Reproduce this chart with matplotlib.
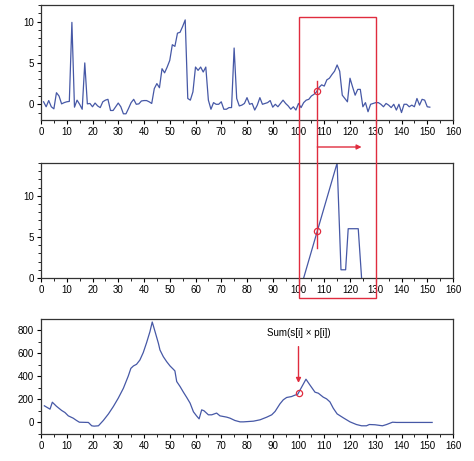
import numpy as np
import matplotlib
matplotlib.use("Agg")
import matplotlib.pyplot as plt
from matplotlib.patches import Rectangle
from matplotlib.lines import Line2D
from matplotlib.ticker import MultipleLocator
import matplotlib.transforms as mtransforms

plt.rcParams['font.family'] = ['Liberation Sans', 'DejaVu Sans']
plt.rcParams['font.size'] = 7

# signal s[i]
signal_x = np.arange(1, 152)
signal_y = [0.3, -0.3, 0.45, -0.3, -0.55, 1.4, 1.0, 0.05, 0.2, 0.3,
            0.35, 9.9, -0.35, 0.5, 0.0, -0.6, 5.0, 0.05, 0.1, -0.3,
            0.15, -0.2, -0.4, 0.3, 0.5, 0.6, -0.75, -0.75, -0.3, 0.15,
            -0.3, -1.15, -1.15, -0.5, 0.2, 0.6, 0.0, 0.05, 0.4, 0.45,
            0.45, 0.3, 0.1, 1.9, 2.5, 2.0, 4.3, 3.8, 4.5, 5.3,
            7.2, 7.0, 8.6, 8.7, 9.4, 10.2, 0.7, 0.5, 1.5, 4.5,
            4.1, 4.5, 3.9, 4.5, 0.5, -0.6, 0.2, 0.0, 0.0, 0.3,
            -0.6, -0.6, -0.4, -0.4, 6.8, 0.7, -0.2, -0.1, 0.1, 0.8,
            0.0, 0.1, -0.7, -0.1, 0.8, 0.0, 0.1, 0.2, 0.45, -0.35,
            0.0, -0.3, 0.1, 0.5, 0.1, -0.2, -0.6, -0.3, -0.7, 0.1,
            -0.4, 0.2, 0.5, 0.6, 1.0, 1.2, 1.5, 2.05, 2.35, 2.2,
            2.95, 3.15, 3.6, 4.0, 4.75, 4.0, 1.1, 0.7, 0.3, 3.15,
            2.1, 1.1, 1.8, 1.8, -0.3, 0.2, -0.9, 0.0, 0.1, 0.2,
            0.2, 0.0, -0.3, 0.1, -0.1, -0.4, 0.0, -0.7, 0.0, -1.0,
            0.0, 0.0, -0.3, -0.1, -0.3, 0.7, -0.1, 0.6, 0.5, -0.3,
            -0.35]

# pattern p[i]
pattern_x = [102, 115, 116.5, 118.3, 119.3, 123.2, 124.5]
pattern_y = [0, 14, 1, 1, 6, 6, 0]

# sum(s[i] * p[i]) result
result_x = [1.3, 3.5, 4.4, 6, 8, 9.3, 10.6, 12.5, 13.8, 14.9, 18.4, 19.7, 20.6, 22.3,
            24.2, 26.2, 28.1, 30, 32, 33.9, 34.9, 35.9, 37.1, 38.4, 39.7, 41, 42.3,
            43.2, 44.3, 45.6, 46.2, 47.5, 48.8, 50.1, 51.4, 52, 52.7, 54, 55.3, 56.6,
            57.9, 59.2, 60.4, 61.4, 62.4, 63.3, 65, 66.3, 68.2, 69.5, 72.1, 73.4,
            75.3, 77.3, 78.6, 82.5, 85.1, 87.7, 89.6, 90.9, 92.8, 94.1, 95.4, 97.3,
            98.6, 99.7, 101.2, 102.9, 104.4, 106.4, 107.7, 109.6, 110.9, 112.2,
            113.5, 115, 117.4, 120, 122.5, 124.5, 126.4, 127.5, 129.7, 132.6, 134.2,
            136.5, 138.1, 151.9]
result_y = [144, 115, 175, 140, 104, 86, 57, 37, 17, 2, 0, -29, -32, -29,
            17, 74, 138, 210, 296, 402, 468, 489, 503, 540, 604, 690, 785,
            869, 785, 684, 627, 569, 526, 489, 460, 446, 354, 311, 262, 216,
            167, 92, 57, 31, 109, 101, 66, 66, 81, 57, 46, 37,
            17, 5, 5, 11, 23, 46, 66, 95, 161, 196, 216, 224,
            236, 244, 305, 374, 325, 262, 253, 219, 204, 178,
            123, 74, 40, 5, -18, -29, -29, -18, -20, -29, -18,
            2, 0, 0]

window = (100, 130)
probe_x = 107.3
sum_x = 100

blue = '#4658a6'
red = '#e02c3e'
W, H = 474, 461

fig = plt.figure(figsize=(W / 100, H / 100), dpi=100)
left, right = 41 / W, 453 / W

def axes_px(top, bottom):
    return fig.add_axes([left, 1 - bottom / H, right - left, (bottom - top) / H])

ax1 = axes_px(5, 120)
ax2 = axes_px(163, 278)
ax3 = axes_px(319, 434)

ax1.plot(signal_x, signal_y, color=blue, lw=0.9)
ax2.plot(pattern_x, pattern_y, color=blue, lw=0.9)
ax3.plot(result_x, result_y, color=blue, lw=0.9)

ax1.set_ylim(-1.9, 12)
ax1.set_yticks([0, 5, 10])
ax1.yaxis.set_minor_locator(MultipleLocator(1))
ax2.set_ylim(0, 14)
ax2.set_yticks([0, 5, 10])
ax2.yaxis.set_minor_locator(MultipleLocator(1))
ax3.set_ylim(-100, 895)
ax3.set_yticks([0, 200, 400, 600, 800])
ax3.yaxis.set_minor_locator(MultipleLocator(100))

for ax in (ax1, ax2, ax3):
    ax.set_xlim(0, 160)
    ax.set_xticks(range(0, 161, 10))
    ax.xaxis.set_minor_locator(MultipleLocator(5))
    ax.tick_params(which='major', direction='out', length=3, width=0.8, pad=2)
    ax.tick_params(which='minor', direction='out', length=2, width=0.6)
    for sp in ax.spines.values():
        sp.set_color('#333333')
        sp.set_linewidth(0.9)

# sliding window annotations across the top two panels
def fy(py):
    return 1 - py / H

blend = mtransforms.blended_transform_factory(ax1.transData, fig.transFigure)
rect = Rectangle((window[0], fy(297.7)), window[1] - window[0], (297.7 - 17.3) / H,
                 transform=blend, fill=False, edgecolor=red, lw=1.0, zorder=5)
fig.add_artist(rect)
vline = Line2D([probe_x, probe_x], [fy(80.7), fy(248.3)], transform=blend,
               color=red, lw=1.0, zorder=5)
fig.add_artist(vline)
ax1.annotate('', xy=(124.5, fy(147)), xytext=(probe_x, fy(147)),
             xycoords=blend, textcoords=blend, annotation_clip=False,
             arrowprops=dict(arrowstyle='-|>', color=red, lw=1.0,
                             mutation_scale=7, shrinkA=0, shrinkB=0))

ax1.plot([probe_x], [np.interp(probe_x, signal_x, signal_y)], 'o', ms=4.5,
         mfc='none', mec=red, mew=0.9, clip_on=False, zorder=6)
ax2.plot([probe_x], [np.interp(probe_x, pattern_x, pattern_y)], 'o', ms=4.5,
         mfc='none', mec=red, mew=0.9, clip_on=False, zorder=6)

# result annotation
ax3.plot([sum_x], [np.interp(sum_x, result_x, result_y)], 'o', ms=4.5,
         mfc='none', mec=red, mew=0.9, zorder=6)
ax3.annotate('', xy=(sum_x, 342), xytext=(sum_x, 656),
             arrowprops=dict(arrowstyle='-|>', color=red, lw=1.0,
                             mutation_scale=7, shrinkA=0, shrinkB=0))
ax3.text(sum_x, 771, 'Sum(s[i] × p[i])', ha='center', va='center', fontsize=7)

fig.savefig('out.png', dpi=100)
